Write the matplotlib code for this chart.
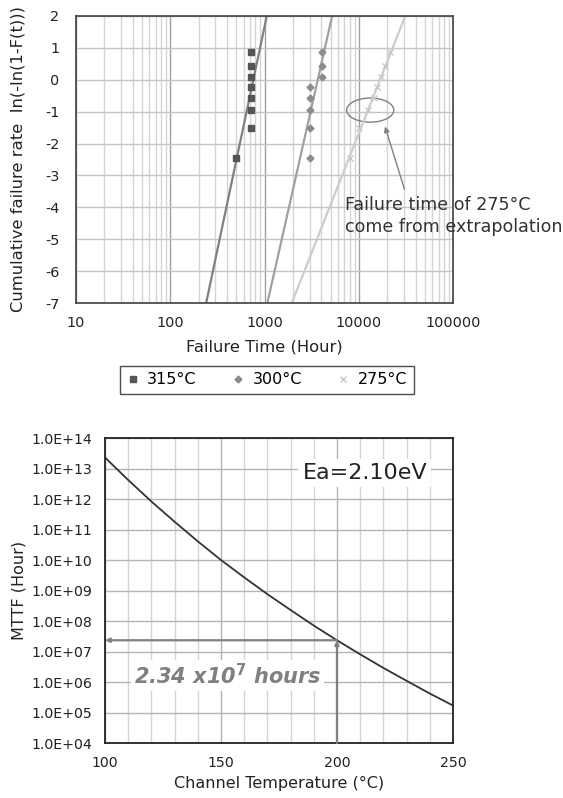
import matplotlib
matplotlib.use('Agg')
import matplotlib.pyplot as plt
from matplotlib.patches import Ellipse
from matplotlib.ticker import FixedLocator, NullFormatter

plt.rcParams['font.family'] = 'DejaVu Sans'
plt.rcParams['axes.unicode_minus'] = False

# Weibull plot data
f_rate = [0.88, 0.44, 0.10, -0.24, -0.56, -0.96, -1.51, -2.44]
t_315 = [720, 720, 720, 720, 720, 720, 720, 500]
t_300 = [4100, 4100, 4100, 3040, 3040, 3040, 3040, 3040]
t_275 = [21500, 19000, 17100, 15500, 14500, 12600, 10100, 8070]

# fitlijnen (begin- en eindpunt)
fit_y = [-7, 2]
fit_315 = [240, 1055]
fit_300 = [1070, 5200]
fit_275 = [1940, 31000]

x_ticks_top = [10, 100, 1000, 10000, 100000]
x_labels_top = ['10', '100', '1000', '10000', '100000']
y_ticks_top = [2, 1, 0, -1, -2, -3, -4, -5, -6, -7]

# MTTF curve
temp = [100, 110, 120, 130, 140, 150, 160, 170, 180, 190, 200, 210, 220, 230, 240, 250]
mttf = [2.3e13, 4.2e12, 8.3e11, 1.8e11, 4.1e10, 1.0e10, 2.7e9, 7.6e8, 2.3e8, 7.1e7,
        2.34e7, 8.1e6, 2.9e6, 1.1e6, 4.2e5, 1.7e5]
t_point = 200
mttf_point = 2.34e7
y_ticks_bot = [1e4, 1e5, 1e6, 1e7, 1e8, 1e9, 1e10, 1e11, 1e12, 1e13, 1e14]
y_labels_bot = ['1.0E+%02d' % e for e in range(4, 15)]

fig = plt.figure(figsize=(5.63, 7.98), dpi=100)

# ---------------- bovenste grafiek ----------------
ax1 = fig.add_axes([0.135, 0.6203, 0.670, 0.3597])
ax1.set_xscale('log')
ax1.set_xlim(10, 100000)
ax1.set_ylim(-7, 2)

ax1.xaxis.set_minor_locator(FixedLocator([m * 10 ** d for d in range(1, 5) for m in range(2, 10)]))
ax1.xaxis.set_minor_formatter(NullFormatter())
ax1.set_xticks(x_ticks_top)
ax1.set_xticklabels(x_labels_top)
ax1.set_yticks(y_ticks_top)
ax1.grid(which='major', axis='x', color='#a0a0a0', linewidth=1.0)
ax1.grid(which='minor', axis='x', color='#d4d4d4', linewidth=1.0)
ax1.grid(which='major', axis='y', color='#c4c4c4', linewidth=1.0)
ax1.set_axisbelow(True)
ax1.tick_params(which='both', length=0, labelsize=10.4, colors='#222222')
ax1.tick_params(axis='y', pad=12)
ax1.tick_params(axis='x', pad=9)

ax1.plot(fit_315, fit_y, color='#808080', linewidth=1.6)
ax1.plot(fit_300, fit_y, color='#a0a0a0', linewidth=1.6)
ax1.plot(fit_275, fit_y, color='#cccccc', linewidth=1.6)
ax1.plot(t_315, f_rate, 's', color='#555555', markersize=4, label='315°C')
ax1.plot(t_300, f_rate, 'D', color='#8c8c8c', markersize=3.5, label='300°C')
ax1.plot(t_275, f_rate, 'x', color='#c8c8c8', markersize=4, markeredgewidth=1, label='275°C')

ax1.add_patch(Ellipse((0.78, 0.672), 0.125, 0.084, transform=ax1.transAxes,
                      fill=False, edgecolor='#808080', linewidth=1))
ax1.annotate('', xy=(0.817, 0.624), xytext=(0.873, 0.387), xycoords='axes fraction',
             arrowprops=dict(arrowstyle='-|>', color='#808080', linewidth=1, mutation_scale=8))
ax1.text(0.713, 0.374, 'Failure time of 275°C\ncome from extrapolation', transform=ax1.transAxes,
         ha='left', va='top', fontsize=12.6, color='#333333', linespacing=1.32)

ax1.set_xlabel('Failure Time (Hour)', fontsize=11.8, color='#222222', labelpad=7)
ax1.set_ylabel('Cumulative failure rate  In(-In(1-F(t)))', fontsize=11.8, color='#222222', labelpad=14)
for s in ax1.spines.values():
    s.set_color('#404040')
    s.set_linewidth(1.2)

leg = fig.legend(loc='center', bbox_to_anchor=(0.474, 0.524), ncol=3, fontsize=11.5,
                 frameon=True, fancybox=False, edgecolor='#222222', handlelength=0.8,
                 handletextpad=0.5, columnspacing=2.2, borderpad=0.4)
leg.get_frame().set_linewidth(1.0)

# ---------------- onderste grafiek ----------------
ax2 = fig.add_axes([0.1865, 0.0689, 0.618, 0.3822])
ax2.set_yscale('log')
ax2.set_xlim(100, 250)
ax2.set_ylim(1e4, 1e14)
ax2.set_xticks([100, 150, 200, 250])
ax2.xaxis.set_minor_locator(FixedLocator(list(range(110, 250, 10))))
ax2.set_yticks(y_ticks_bot)
ax2.set_yticklabels(y_labels_bot)
ax2.yaxis.set_minor_locator(FixedLocator([]))
ax2.grid(which='major', color='#b4b4b4', linewidth=1.0)
ax2.grid(which='minor', axis='x', color='#d4d4d4', linewidth=1.0)
ax2.set_axisbelow(True)
ax2.tick_params(which='both', length=0, labelsize=10.2, colors='#222222')
ax2.tick_params(axis='y', pad=9)
ax2.tick_params(axis='x', pad=9)

ax2.plot(temp, mttf, color='#333333', linewidth=1.3)

ax2.annotate('', xy=(100, mttf_point), xytext=(t_point, mttf_point),
             arrowprops=dict(arrowstyle='-|>', color='#808080', linewidth=1.6, mutation_scale=6,
                             shrinkA=0, shrinkB=0))
ax2.annotate('', xy=(t_point, mttf_point), xytext=(t_point, 1e4),
             arrowprops=dict(arrowstyle='-|>', color='#808080', linewidth=1.6, mutation_scale=6,
                             shrinkA=0, shrinkB=0))

ax2.text(153, 1.6e6, r'2.34 x10$^\mathbf{7}$ hours', fontsize=15, fontweight='bold', fontstyle='italic',
         color='#808080', ha='center', va='center',
         bbox=dict(facecolor='white', edgecolor='none', pad=2))
ax2.text(212, 7e12, 'Ea=2.10eV', fontsize=16, color='#222222', ha='center', va='center',
         bbox=dict(facecolor='white', edgecolor='none', pad=3))

ax2.set_xlabel('Channel Temperature (°C)', fontsize=11.5, color='#222222', labelpad=5)
ax2.set_ylabel('MTTF (Hour)', fontsize=11.5, color='#222222', labelpad=4)
for s in ax2.spines.values():
    s.set_color('#222222')
    s.set_linewidth(1.3)

fig.savefig('out.png', dpi=100)
